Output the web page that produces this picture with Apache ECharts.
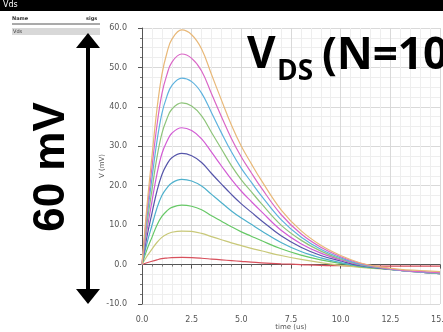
<!DOCTYPE html>
<html>
<head>
<meta charset="utf-8">
<script src="https://cdn.jsdelivr.net/npm/echarts@6/dist/echarts.min.js"></script>
<style>
  html, body { margin: 0; padding: 0; background: #fff; }
  #chart { width: 443px; height: 332px; }
</style>
</head>
<body>
<div id="chart"></div>
<script>
// time axis (us)
const times = [0, 0.25, 0.5, 0.75, 1, 1.25, 1.5, 2, 2.5, 3, 3.5, 4, 4.5, 5, 5.5, 6, 7, 8, 9, 10, 11, 12, 13, 14, 15];

// Vds (mV) for N = 1 .. 10
const vN1  = [0, 0.45, 0.85, 1.2, 1.5, 1.65, 1.75, 1.8, 1.75, 1.6, 1.4, 1.2, 1.0, 0.8, 0.6, 0.45, 0.2, 0.0, -0.2, -0.3, -0.4, -0.4, -0.4, -0.4, -0.4];
const vN2  = [0, 2.1, 3.9, 5.6, 6.9, 7.7, 8.2, 8.5, 8.4, 7.9, 7.1, 6.3, 5.5, 4.8, 4.1, 3.5, 2.3, 1.3, 0.5, -0.2, -0.7, -1.1, -1.5, -1.8, -2.1];
const vN3  = [0, 3.8, 6.9, 10.0, 12.2, 13.6, 14.5, 15.1, 14.8, 13.9, 12.4, 11.0, 9.6, 8.3, 7.2, 6.1, 4.0, 2.4, 1.2, 0.3, -0.5, -1.0, -1.5, -1.9, -2.3];
const vN4  = [0, 5.4, 9.9, 14.3, 17.5, 19.4, 20.7, 21.6, 21.2, 19.9, 17.8, 15.7, 13.6, 11.8, 10.2, 8.6, 5.6, 3.3, 1.7, 0.5, -0.4, -1.0, -1.5, -1.9, -2.3];
const vN5  = [0, 7.1, 13.0, 18.6, 22.8, 25.4, 27.1, 28.2, 27.6, 25.9, 23.1, 20.4, 17.8, 15.4, 13.3, 11.2, 7.3, 4.4, 2.3, 0.9, -0.3, -0.9, -1.5, -1.9, -2.3];
const vN6  = [0, 8.7, 16.0, 22.9, 28.1, 31.2, 33.3, 34.7, 34.0, 31.9, 28.5, 25.0, 21.6, 18.6, 16.0, 13.5, 8.7, 5.3, 2.9, 1.2, -0.1, -0.8, -1.5, -1.9, -2.3];
const vN7  = [0, 10.3, 18.9, 27.1, 33.2, 36.9, 39.4, 41.0, 40.2, 37.7, 33.5, 29.3, 25.1, 21.5, 18.5, 15.5, 10.0, 6.2, 3.4, 1.4, 0.0, -0.8, -1.5, -1.9, -2.3];
const vN8  = [0, 11.8, 21.8, 31.2, 38.3, 42.6, 45.4, 47.3, 46.4, 43.5, 38.5, 33.4, 28.6, 24.4, 20.9, 17.5, 11.4, 7.0, 3.9, 1.7, 0.1, -0.7, -1.5, -1.9, -2.2];
const vN9  = [0, 13.4, 24.6, 35.2, 43.3, 48.1, 51.3, 53.4, 52.3, 49.1, 43.3, 37.5, 32.0, 27.3, 23.3, 19.5, 12.7, 7.8, 4.4, 2.0, 0.3, -0.7, -1.4, -1.8, -2.1];
const vN10 = [0, 14.9, 27.4, 39.3, 48.2, 53.6, 57.1, 59.5, 58.3, 54.7, 48.2, 41.7, 35.4, 30.0, 25.6, 21.4, 13.9, 8.6, 4.9, 2.3, 0.4, -0.6, -1.2, -1.5, -1.8];

const curves = [vN1, vN2, vN3, vN4, vN5, vN6, vN7, vN8, vN9, vN10];
const names = ['N=1', 'N=2', 'N=3', 'N=4', 'N=5', 'N=6', 'N=7', 'N=8', 'N=9', 'N=10'];
const colors = ['#d8505c', '#c8c878', '#66c866', '#4eb0cc', '#5656aa', '#d25cd4', '#8ec47a', '#5eb2de', '#da66c6', '#e8b878'];

const myChart = echarts.init(document.getElementById('chart'));

const series = curves.map((vals, i) => ({
  name: names[i],
  type: 'line',
  showSymbol: false,
  smooth: 0.4,
  lineStyle: { width: 1.2, color: colors[i] },
  data: vals.map((v, j) => [times[j], v])
}));

const option = {
  animation: false,
  backgroundColor: '#fff',
  grid: { left: 142, right: 3, top: 28, bottom: 28, outerBoundsMode: 'none' },
  xAxis: {
    type: 'value',
    min: 0,
    max: 15,
    interval: 2.5,
    offset: 4,
    name: 'time (us)',
    nameLocation: 'middle',
    nameGap: 16,
    nameMoveOverlap: false,
    nameTextStyle: { fontSize: 7, color: '#555', fontFamily: 'DejaVu Sans' },
    axisLine: { show: true, lineStyle: { color: '#555', width: 1 } },
    axisTick: { show: true, length: 4, lineStyle: { color: '#555' } },
    minorTick: { show: true, splitNumber: 5, length: 2, lineStyle: { color: '#777' } },
    axisLabel: {
      fontSize: 8, color: '#555', margin: 8, fontFamily: 'DejaVu Sans',
      formatter: v => v.toFixed(1)
    },
    splitLine: { show: true, lineStyle: { color: '#d9d9d9', width: 1 } },
    minorSplitLine: { show: true, lineStyle: { color: '#eeeeee', width: 1 } }
  },
  yAxis: {
    type: 'value',
    min: -10,
    max: 60,
    interval: 10,
    offset: 6,
    name: 'V (mV)',
    nameLocation: 'middle',
    nameGap: 30,
    nameMoveOverlap: false,
    nameTextStyle: { fontSize: 7, color: '#555', fontFamily: 'DejaVu Sans' },
    axisLine: { show: true, lineStyle: { color: '#555', width: 1 } },
    axisTick: { show: true, length: 4, lineStyle: { color: '#555' } },
    minorTick: { show: true, splitNumber: 4, length: 2, lineStyle: { color: '#777' } },
    axisLabel: {
      fontSize: 8, color: '#555', margin: 9, fontFamily: 'DejaVu Sans',
      formatter: v => v.toFixed(1)
    },
    splitLine: { show: true, lineStyle: { color: '#d9d9d9', width: 1 } },
    minorSplitLine: { show: true, lineStyle: { color: '#eeeeee', width: 1 } }
  },
  graphic: [
    // waveform viewer title bar
    { type: 'rect', z: 100, shape: { x: 0, y: 0, width: 443, height: 11 }, style: { fill: '#000' } },
    { type: 'text', z: 100, left: 3, top: 1, style: { text: 'Vds', fill: '#fff', fontSize: 8, fontFamily: 'DejaVu Sans' } },
    // signal list
    { type: 'text', z: 100, left: 12, top: 16, style: { text: 'Name', fill: '#333', fontSize: 5, fontWeight: 'bold', fontFamily: 'DejaVu Sans' } },
    { type: 'text', z: 100, left: 86, top: 16, style: { text: 'sigs', fill: '#333', fontSize: 5, fontWeight: 'bold', fontFamily: 'DejaVu Sans' } },
    { type: 'line', z: 100, shape: { x1: 12, y1: 24, x2: 100, y2: 24 }, style: { stroke: '#555', lineWidth: 1 } },
    { type: 'rect', z: 100, shape: { x: 12, y: 28, width: 88, height: 7 }, style: { fill: '#d8d8d8' } },
    { type: 'text', z: 100, left: 13, top: 29, style: { text: 'Vds', fill: '#333', fontSize: 5, fontFamily: 'DejaVu Sans' } },
    // 60 mV double arrow
    { type: 'rect', z: 100, shape: { x: 86, y: 46, width: 4, height: 244 }, style: { fill: '#000' } },
    { type: 'polygon', z: 100, shape: { points: [[88, 33], [76, 48], [100, 48]] }, style: { fill: '#000' } },
    { type: 'polygon', z: 100, shape: { points: [[88, 304], [76, 289], [100, 289]] }, style: { fill: '#000' } },
    {
      type: 'text', z: 100, x: 52, y: 167, rotation: Math.PI / 2,
      style: {
        text: '60 mV', fill: '#000', fontSize: 44, fontWeight: 'bold',
        fontFamily: 'Liberation Sans', align: 'center', verticalAlign: 'middle'
      }
    },
    // VDS (N=10 label
    { type: 'text', z: 100, x: 247, y: 55, style: { text: 'V', fill: '#000', fontSize: 44, fontWeight: 'bold', fontFamily: 'Open Sans', verticalAlign: 'middle' } },
    { type: 'text', z: 100, x: 277, y: 72, style: { text: 'DS', fill: '#000', fontSize: 28, fontWeight: 'bold', fontFamily: 'Open Sans', verticalAlign: 'middle' } },
    { type: 'text', z: 100, x: 322, y: 56, style: { text: '(N=10', fill: '#000', fontSize: 44, fontWeight: 'bold', fontFamily: 'Open Sans', verticalAlign: 'middle' } }
  ],
  series: series
};

myChart.setOption(option);
</script>
</body>
</html>
